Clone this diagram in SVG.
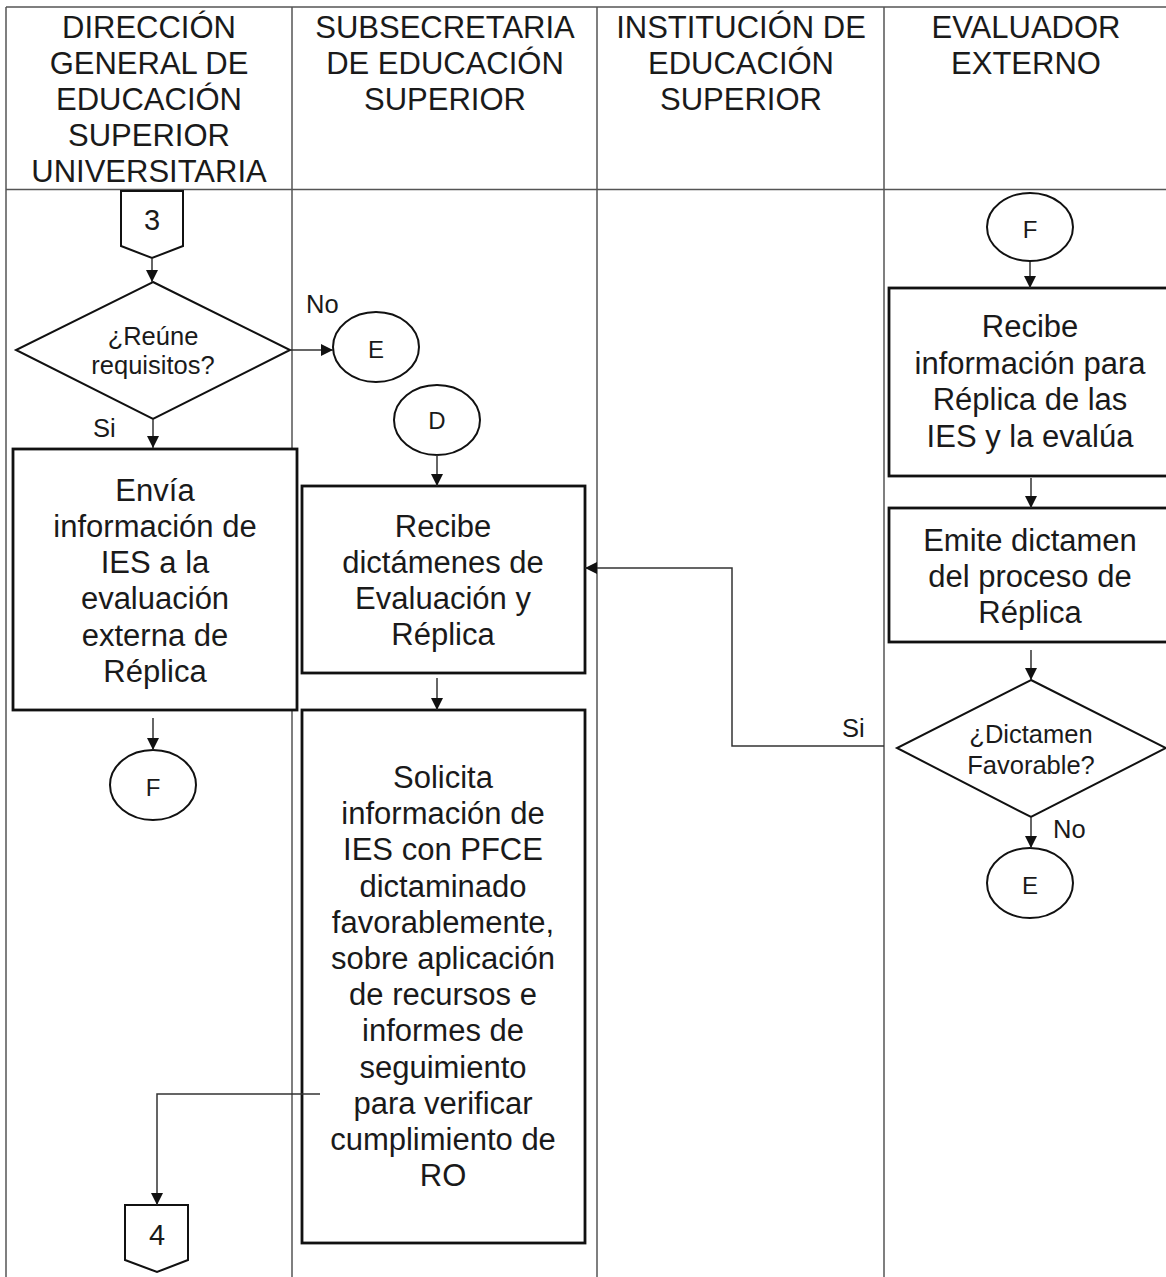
<svg xmlns="http://www.w3.org/2000/svg" width="1166" height="1277" viewBox="0 0 1166 1277">
<style>
.lane{fill:none;stroke:#555;stroke-width:1.5}
.box{fill:#fff;stroke:#111;stroke-width:2.8}
.dia{fill:#fff;stroke:#111;stroke-width:2}
.circ{fill:#fff;stroke:#111;stroke-width:2}
.con{fill:none;stroke:#333;stroke-width:1.5}
text{font-family:"Liberation Sans",Arial,sans-serif;fill:#1a1a1a;text-anchor:middle}
.h{font-size:31px}
.t{font-size:31px}
.s{font-size:25.5px}
.lbl{font-size:25.5px;text-anchor:start}
.c{font-size:24px}
.n{font-size:29px}
</style>
<defs>
<marker id="ah" viewBox="0 0 10 10" refX="10" refY="5" markerWidth="12" markerHeight="12" markerUnits="userSpaceOnUse" orient="auto">
<path d="M0,0 L10,5 L0,10 z" fill="#111"/>
</marker>
</defs>
<rect width="1166" height="1277" fill="#fff"/>
<g id="lanes">
<path class="lane" d="M6,7 H1168 M6,189.5 H1168 M6,7 V1277 M292,7 V1277 M597,7 V1277 M884,7 V1277"/>
<text class="h" x="149" y="37.5">DIRECCIÓN</text>
<text class="h" x="149" y="73.5">GENERAL DE</text>
<text class="h" x="149" y="109.5">EDUCACIÓN</text>
<text class="h" x="149" y="145.5">SUPERIOR</text>
<text class="h" x="149" y="181.5">UNIVERSITARIA</text>
<text class="h" x="445" y="37.5">SUBSECRETARIA</text>
<text class="h" x="445" y="73.5">DE EDUCACIÓN</text>
<text class="h" x="445" y="109.5">SUPERIOR</text>
<text class="h" x="741" y="37.5">INSTITUCIÓN DE</text>
<text class="h" x="741" y="73.5">EDUCACIÓN</text>
<text class="h" x="741" y="109.5">SUPERIOR</text>
<text class="h" x="1026" y="37.5">EVALUADOR</text>
<text class="h" x="1026" y="73.5">EXTERNO</text>
</g>
<g id="n3">
<path class="box" style="stroke-width:2" d="M121,191 H183 V246 L152,258 L121,246 Z"/>
<text class="n" x="152" y="230">3</text>
</g>
<g id="d1">
<path class="dia" d="M153,282 L290,350 L153,419 L16,350 Z"/>
<text class="s" x="153" y="345">¿Reúne</text>
<text class="s" x="153" y="374">requisitos?</text>
</g>
<g id="e1">
<ellipse class="circ" cx="376" cy="347" rx="43" ry="35"/>
<text class="c" x="376" y="358">E</text>
</g>
<g id="d_conn">
<ellipse class="circ" cx="437" cy="420" rx="43" ry="35"/>
<text class="c" x="437" y="429">D</text>
</g>
<g id="envia">
<rect class="box" x="13" y="449" width="284" height="261"/>
<text class="t" x="155" y="501">Envía</text>
<text class="t" x="155" y="537">información de</text>
<text class="t" x="155" y="573">IES a la</text>
<text class="t" x="155" y="609">evaluación</text>
<text class="t" x="155" y="646">externa de</text>
<text class="t" x="155" y="682">Réplica</text>
</g>
<g id="f1">
<ellipse class="circ" cx="153" cy="785" rx="43" ry="35"/>
<text class="c" x="153" y="796">F</text>
</g>
<g id="recibe_dict">
<rect class="box" x="302" y="486" width="283" height="187"/>
<text class="t" x="443" y="537">Recibe</text>
<text class="t" x="443" y="573">dictámenes de</text>
<text class="t" x="443" y="609">Evaluación y</text>
<text class="t" x="443" y="645">Réplica</text>
</g>
<g id="solicita">
<rect class="box" x="302" y="710" width="283" height="533"/>
<text class="t" x="443" y="788">Solicita</text>
<text class="t" x="443" y="824">información de</text>
<text class="t" x="443" y="860">IES con PFCE</text>
<text class="t" x="443" y="897">dictaminado</text>
<text class="t" x="443" y="933">favorablemente,</text>
<text class="t" x="443" y="969">sobre aplicación</text>
<text class="t" x="443" y="1005">de recursos e</text>
<text class="t" x="443" y="1041">informes de</text>
<text class="t" x="443" y="1078">seguimiento</text>
<text class="t" x="443" y="1114">para verificar</text>
<text class="t" x="443" y="1150">cumplimiento de</text>
<text class="t" x="443" y="1186">RO</text>
</g>
<g id="n4">
<path class="box" style="stroke-width:2" d="M125,1205 H188 V1260 L157,1272 L125,1260 Z"/>
<text class="n" x="157" y="1245">4</text>
</g>
<g id="f2">
<ellipse class="circ" cx="1030" cy="227" rx="43" ry="34"/>
<text class="c" x="1030" y="238">F</text>
</g>
<g id="recibe_info">
<rect class="box" x="889" y="288" width="283" height="188"/>
<text class="t" x="1030" y="337">Recibe</text>
<text class="t" x="1030" y="374">información para</text>
<text class="t" x="1030" y="410">Réplica de las</text>
<text class="t" x="1030" y="447">IES y la evalúa</text>
</g>
<g id="emite">
<rect class="box" x="889" y="508" width="283" height="134"/>
<text class="t" x="1030" y="551">Emite dictamen</text>
<text class="t" x="1030" y="587">del proceso de</text>
<text class="t" x="1030" y="623">Réplica</text>
</g>
<g id="d2">
<path class="dia" d="M1031,680 L1166,748 L1031,817 L897,748 Z"/>
<text class="s" x="1031" y="743">¿Dictamen</text>
<text class="s" x="1031" y="774">Favorable?</text>
</g>
<g id="e2">
<ellipse class="circ" cx="1030" cy="883" rx="43" ry="35"/>
<text class="c" x="1030" y="894">E</text>
</g>
<g id="connectors">
<path class="con" d="M152,258 V282" marker-end="url(#ah)"/>
<path class="con" d="M290,350 H333" marker-end="url(#ah)"/>
<path class="con" d="M153,419 V448" marker-end="url(#ah)"/>
<path class="con" d="M153,718 V750" marker-end="url(#ah)"/>
<path class="con" d="M437,455 V486" marker-end="url(#ah)"/>
<path class="con" d="M437,678 V710" marker-end="url(#ah)"/>
<path class="con" d="M320,1094 H157 V1205" marker-end="url(#ah)"/>
<path class="con" d="M1030,262 V288" marker-end="url(#ah)"/>
<path class="con" d="M1031,478 V508" marker-end="url(#ah)"/>
<path class="con" d="M1031,650 V680" marker-end="url(#ah)"/>
<path class="con" d="M1031,817 V848" marker-end="url(#ah)"/>
<path class="con" d="M884,746 H732 V568 H585" marker-end="url(#ah)"/>
<text class="lbl" x="306" y="313">No</text>
<text class="lbl" x="93" y="437">Si</text>
<text class="lbl" x="842" y="737">Si</text>
<text class="lbl" x="1053" y="838">No</text>
</g>
</svg>
